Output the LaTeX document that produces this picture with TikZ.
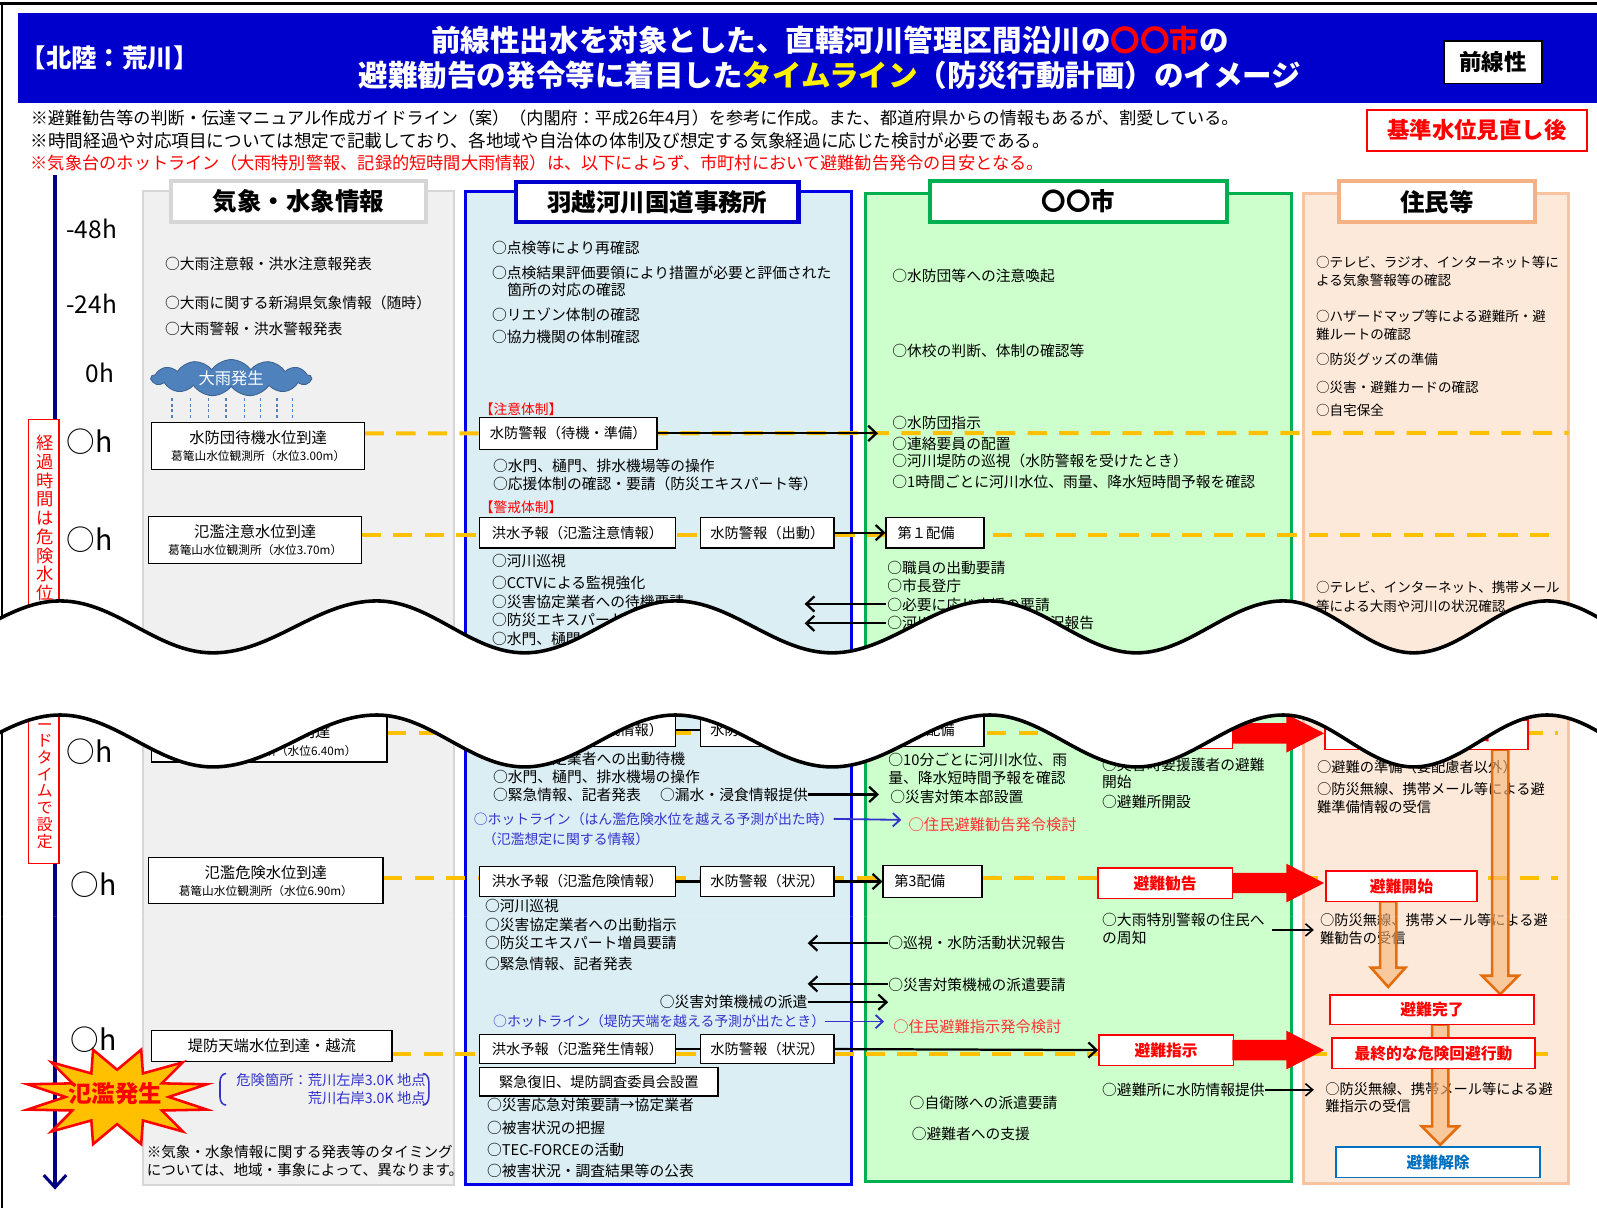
\documentclass[tikz,border=0pt]{standalone}
\usepackage{fontspec}
\setmainfont{Noto Sans CJK JP}
\usetikzlibrary{arrows.meta,shapes.geometric,shapes.symbols}
\newcommand\fs[1]{\fontsize{#1}{#1}\selectfont}
\newcommand\fsb[2]{\fontsize{#1}{#2}\selectfont}
\definecolor{hdrblue}{RGB}{0,0,204}
\definecolor{c1fill}{RGB}{240,240,240}
\definecolor{c1line}{RGB}{214,214,214}
\definecolor{c2fill}{RGB}{219,238,244}
\definecolor{c2line}{RGB}{0,0,230}
\definecolor{c3fill}{RGB}{204,255,204}
\definecolor{c3line}{RGB}{0,176,80}
\definecolor{c4fill}{RGB}{253,233,217}
\definecolor{c4line}{RGB}{248,196,160}
\definecolor{c4hdr}{RGB}{244,177,131}
\definecolor{dashor}{RGB}{255,192,0}
\definecolor{navy}{RGB}{0,0,128}
\definecolor{hot}{RGB}{51,51,204}
\definecolor{cloudblue}{RGB}{79,129,189}
\definecolor{oafill}{RGB}{247,180,120}
\definecolor{oaline}{RGB}{228,108,10}
\definecolor{clrblue}{RGB}{0,112,192}
\definecolor{burstfill}{RGB}{255,192,0}
\definecolor{softred}{RGB}{255,51,51}

\begin{document}
\begin{tikzpicture}[x=1pt,y=-1pt,
  txt/.style={anchor=west,inner sep=0pt,font=\fs{14.5}},
  ctxt/.style={inner sep=0pt,font=\fs{14.5}},
  rtxt/.style={txt,text=softred,font=\fs{15}},
  tagtxt/.style={txt,text=red,font=\fs{13.5}},
  htxt/.style={txt,text=hot,font=\fs{13.6}},
  ntxt/.style={txt,font=\fs{13.3}},
  mtxt/.style={txt,font=\fs{14}},
  tlab/.style={inner sep=0pt,font=\fs{24}},
  olab/.style={inner sep=0pt,font=\fs{28}},
  panelhdr/.style={fill=white,line width=4pt,inner sep=0pt,minimum height=40pt,font=\bfseries\fs{24}},
  box/.style={draw=black,line width=1.3pt,fill=white,inner sep=0pt,font=\fs{14}},
  rbox/.style={draw=red,line width=1.6pt,fill=white,inner sep=0pt,text=red,font=\bfseries\fs{15.5}},
  dl/.style={draw=dashor,line width=4pt,dash pattern=on 19pt off 12pt},
  arr/.style={draw=black,line width=2.2pt,-{Straight Barb[length=8pt,width=15pt]}},
  tarr/.style={draw=black,line width=1.6pt,-{Straight Barb[length=7pt,width=12pt]}},
  harr/.style={draw=hot,line width=1.8pt,-{Straight Barb[length=7pt,width=13pt]}},
  link/.style={draw=black,line width=2.2pt},
  oarrow/.style={fill=oafill,fill opacity=0.6,draw=oaline,line width=2.5pt},
]
\useasboundingbox (0,0) rectangle (1568,1186);
\fill[white] (0,0) rectangle (1568,1186);

% ---------- title band ----------
\fill[hdrblue] (18,13) rectangle (1568,101);
\node[anchor=west,inner sep=0pt,text=white,font=\bfseries\fs{25}] (region) at (20,57) {【北陸：荒川】};
\node[inner sep=0pt,text=white,font=\bfseries\fs{29}] (title1) at (815,40) {前線性出水を対象とした、直轄河川管理区間沿川の\textcolor{red}{〇〇市}の};
\node[inner sep=0pt,text=white,font=\bfseries\fs{29}] (title2) at (815,74) {避難勧告の発令等に着目した\textcolor{yellow}{タイムライン}（防災行動計画）のイメージ};
\node[draw=black,line width=1.5pt,fill=white,inner sep=0pt,minimum width=96pt,minimum height=42pt,font=\bfseries\fs{22}] (front) at (1466,61) {前線性};

% ---------- notes ----------
\node[txt,font=\fs{16.8}] (note1) at (30,116) {※避難勧告等の判断・伝達マニュアル作成ガイドライン（案）（内閣府：平成26年4月）を参考に作成。また、都道府県からの情報もあるが、割愛している。};
\node[txt,font=\fs{17.3}] (note2) at (30,138) {※時間経過や対応項目については想定で記載しており、各地域や自治体の体制及び想定する気象経過に応じた検討が必要である。};
\node[txt,font=\fs{16.9},text=red] (note3) at (30,160) {※気象台のホットライン（大雨特別警報、記録的短時間大雨情報）は、以下によらず、市町村において避難勧告発令の目安となる。};
\node[draw=red,line width=1.5pt,fill=white,inner sep=0pt,minimum width=216pt,minimum height=40pt,text=red,font=\bfseries\fs{22}] (revised) at (1450,128) {基準水位見直し後};

% ---------- column panels ----------
\filldraw[fill=c1fill,draw=c1line,line width=2pt] (140,188) rectangle (446,1163);
\filldraw[fill=c2fill,draw=c2line,line width=2.5pt] (457,188) rectangle (836,1163);
\filldraw[fill=c3fill,draw=c3line,line width=2.5pt] (850,190) rectangle (1268,1160);
\filldraw[fill=c4fill,draw=c4line,line width=2.5pt] (1280,190) rectangle (1540,1162);

\node[panelhdr,draw=c1line,minimum width=250pt] (h1) at (293,198) {気象・水象情報};
\node[panelhdr,draw=hdrblue,minimum width=277pt,minimum height=39pt] (h2) at (645.5,198.5) {羽越河川国道事務所};
\node[panelhdr,draw=c3line,minimum width=292pt] (h3) at (1059,198) {〇〇市};
\node[panelhdr,draw=c4hdr,minimum width=192pt] (h4) at (1411,198) {住民等};

% ---------- frame ----------
\draw[black,line width=3pt] (0,3) -- (1568,3);
\draw[black,line width=2.5pt] (2,3) -- (2,1186);

% ---------- water level guide lines ----------
\coordinate (d1s) at (358,425.5); \coordinate (d1e) at (1540,425);
\coordinate (d2s) at (355,525);   \coordinate (d2e) at (1530,525);
\coordinate (d3s) at (380,720);   \coordinate (d3e) at (1530,720);
\coordinate (d4s) at (376,862);   \coordinate (d4e) at (1530,862);
\coordinate (d5s) at (385,1035);  \coordinate (d5e) at (1530,1035);
\draw[dl] (d1s) -- (d1e);
\draw[dl] (d2s) -- (d2e);
\draw[dl] (d3s) -- (d3e);
\draw[dl] (d4s) -- (d4e);
\draw[dl] (d5s) -- (d5e);

% ---------- time axis ----------
\coordinate (ax0) at (54,172); \coordinate (ax1) at (54,1168);
\draw[navy,line width=3pt,-{Straight Barb[length=12pt,width=22pt]}] (ax0) -- (ax1);
\node[tlab] (tm48) at (90,225) {-48h};
\node[tlab] (tm24) at (90,298) {-24h};
\node[tlab] (tm0) at (98,366) {0h};
\node[olab] (oh1) at (88,434) {○h};
\node[olab] (oh2) at (88,530) {○h};
\node[olab] (oh3) at (88,738) {○h};
\node[olab] (oh4) at (92,869) {○h};

% lead-time label
\filldraw[fill=white,draw=red,line width=1.3pt] (28,412) rectangle (58,848);
\node[anchor=north,inner sep=0pt,align=center,text=red,font=\fsb{17}{18.4}] (vt1) at (44,427) {経\\過\\時\\間\\は\\危\\険\\水\\位\\到\\達};
\node[anchor=north,inner sep=0pt,align=center,text=red,font=\fsb{15.5}{16.4}] (vt2) at (44,710) {ー\\ド\\タ\\イ\\ム\\で\\設\\定};

% ---------- column 1 : weather / hydrology ----------
\node[txt] (w1) at (162,259) {○大雨注意報・洪水注意報発表};
\node[txt] (w2) at (162,297) {○大雨に関する新潟県気象情報（随時）};
\node[txt] (w3) at (162,323) {○大雨警報・洪水警報発表};
\node[cloud,cloud puffs=13,cloud puff arc=110,aspect=4.5,draw=cloudblue!75!black,line width=0.8pt,fill=cloudblue,minimum width=157pt,minimum height=36pt,inner sep=0pt,text=white,font=\fs{16}] (rainc) at (227,371) {大雨発生};
\foreach \rx in {169,187,205,222,240,256,272,287}
  \draw[cloudblue,line width=1.3pt,dash pattern=on 3pt off 2.5pt] (\rx,391) -- (\rx,410);

\node[box,minimum width=209pt,minimum height=46pt] (m1) at (253.5,438) {};
\node[ctxt,font=\fs{15}] (m1a) at (253.5,430) {水防団待機水位到達};
\node[ctxt,font=\fs{11.5}] (m1b) at (253.5,448) {葛篭山水位観測所（水位3.00m）};
\node[box,minimum width=209pt,minimum height=46pt] (m2) at (250.5,530) {};
\node[ctxt,font=\fs{15}] (m2a) at (250.5,522) {氾濫注意水位到達};
\node[ctxt,font=\fs{11.5}] (m2b) at (250.5,540) {葛篭山水位観測所（水位3.70m）};
\node[box,minimum width=231pt,minimum height=46pt] (m3) at (264.5,725) {};
\node[ctxt,font=\fs{15}] (m3a) at (264.5,718) {避難判断水位到達};
\node[ctxt,font=\fs{11.5}] (m3b) at (264.5,737) {葛篭山水位観測所（水位6.40m）};
\node[box,minimum width=230pt,minimum height=45pt] (m4) at (261,864.5) {};
\node[ctxt,font=\fs{15}] (m4a) at (261,857) {氾濫危険水位到達};
\node[ctxt,font=\fs{11.5}] (m4b) at (261,875) {葛篭山水位観測所（水位6.90m）};
\node[box,font=\fs{15},minimum width=236pt,minimum height=30pt] (m5) at (267,1027) {堤防天端水位到達・越流};

\node[anchor=east,inner sep=0pt,text=hot,font=\fs{14}] (spot1) at (418,1060) {危険箇所：荒川左岸3.0K 地点};
\node[anchor=east,inner sep=0pt,text=hot,font=\fs{14}] (spot2) at (418,1078) {荒川右岸3.0K 地点};
\draw[hot,line width=1.5pt] (222,1054) to[out=180,in=90] (216,1062) -- (216,1077) to[out=-90,in=180] (222,1085);
\draw[hot,line width=1.5pt] (415,1054) to[out=0,in=90] (421,1062) -- (421,1077) to[out=-90,in=0] (415,1085);

\node[txt,font=\fs{14.3}] (cav1) at (144,1131) {※気象・水象情報に関する発表等のタイミング};
\node[txt,font=\fs{14.3}] (cav2) at (144,1149) {については、地域・事象によって、異なります。};

% ---------- column 2 : river office ----------
\node[txt] (o1) at (483,243) {○点検等により再確認};
\node[txt] (o2) at (483,268) {○点検結果評価要領により措置が必要と評価された};
\node[txt] (o3) at (498,285) {箇所の対応の確認};
\node[txt] (o4) at (483,309) {○リエゾン体制の確認};
\node[txt] (o5) at (483,331) {○協力機関の体制確認};
\node[tagtxt] (tag1) at (471,402) {【注意体制】};
\node[box,minimum width=174pt,minimum height=31pt] (k1) at (558,425.5) {水防警報（待機・準備）};
\node[txt] (o6) at (484,457) {○水門、樋門、排水機場等の操作};
\node[txt] (o7) at (484,475) {○応援体制の確認・要請（防災エキスパート等）};
\node[tagtxt] (tag2) at (471,498) {【警戒体制】};
\node[box,minimum width=192pt,minimum height=30pt] (k2) at (567,523) {洪水予報（氾濫注意情報）};
\node[box,minimum width=131pt,minimum height=30pt] (k3) at (753.5,523) {水防警報（出動）};
\node[txt] (o8) at (483,551) {○河川巡視};
\node[txt] (o9) at (483,572) {○CCTVによる監視強化};
\node[txt] (o10) at (483,591) {○災害協定業者への待機要請};
\node[txt] (o11) at (483,609) {○防災エキスパート派遣要請};
\node[txt] (o12) at (483,627) {○水門、樋門、排水機場の操作};

\node[box,minimum width=192pt,minimum height=32pt] (k4) at (567,717) {洪水予報（氾濫警戒情報）};
\node[box,minimum width=131pt,minimum height=32pt] (k5) at (753.5,717) {水防警報（指示）};
\draw[link] (k4.east) -- (k5.west);
\node[txt] (o13) at (484,745) {○災害協定業者への出動待機};
\node[txt] (o14) at (484,763) {○水門、樋門、排水機場の操作};
\node[txt] (o15) at (484,780) {○緊急情報、記者発表};
\node[txt] (o16) at (648,780) {○漏水・浸食情報提供};
\node[htxt] (hot1) at (465,804) {○ホットライン（はん濫危険水位を越える予測が出た時）};
\node[htxt] (hot2) at (474,824) {（氾濫想定に関する情報）};
\node[box,minimum width=192pt,minimum height=29pt] (k6) at (567,865.5) {洪水予報（氾濫危険情報）};
\node[box,minimum width=131pt,minimum height=29pt] (k7) at (753.5,865.5) {水防警報（状況）};
\draw[link] (k6.east) -- (k7.west);
\node[txt] (o17) at (476,889) {○河川巡視};
\node[txt] (o18) at (476,908) {○災害協定業者への出動指示};
\node[txt] (o19) at (476,926) {○防災エキスパート増員要請};
\node[txt] (o20) at (476,946) {○緊急情報、記者発表};
\node[anchor=east,inner sep=0pt,font=\fs{14.5}] (o21) at (793,984) {○災害対策機械の派遣};
\node[htxt] (hot3) at (484,1003) {○ホットライン（堤防天端を越える予測が出たとき）};
\node[box,minimum width=192pt,minimum height=28pt] (k8) at (567,1030) {洪水予報（氾濫発生情報）};
\node[box,minimum width=131pt,minimum height=28pt] (k9) at (753.5,1030) {水防警報（状況）};
\draw[link] (k8.east) -- (k9.west);
\node[box,minimum width=234pt,minimum height=28pt] (k10) at (588,1062) {緊急復旧、堤防調査委員会設置};
\node[txt] (o22) at (478,1085) {○災害応急対策要請→協定業者};
\node[txt] (o23) at (478,1107) {○被害状況の把握};
\node[txt] (o24) at (478,1129) {○TEC-FORCEの活動};
\node[txt] (o25) at (478,1150) {○被害状況・調査結果等の公表};

% ---------- column 3 : city ----------
\node[txt] (c1) at (876,271) {○水防団等への注意喚起};
\node[txt] (c2) at (876,345) {○休校の判断、体制の確認等};
\node[txt] (c3) at (876,415) {○水防団指示};
\node[txt] (c4) at (876,436) {○連絡要員の配置};
\node[txt] (c5) at (876,453) {○河川堤防の巡視（水防警報を受けたとき）};
\node[txt] (c6) at (876,473) {○1時間ごとに河川水位、雨量、降水短時間予報を確認};
\node[box,minimum width=96pt,minimum height=30pt] (s1) at (918,523) {};
\node[mtxt] (s1t) at (881,523) {第１配備};
\node[txt] (c7) at (871,558) {○職員の出動要請};
\node[txt] (c8) at (871,575) {○市長登庁};
\node[txt] (c9) at (871,594) {○必要に応じ応援の要請};
\node[txt] (c10) at (871,612) {○河川巡視・水防活動状況報告};

\node[box,minimum width=96pt,minimum height=32pt] (s2) at (918,717) {};
\node[mtxt] (s2t) at (881,717) {第２配備};
\node[txt] (c11) at (872,746) {○10分ごとに河川水位、雨};
\node[txt] (c12) at (872,764) {量、降水短時間予報を確認};
\node[txt] (c13) at (874,782) {○災害対策本部設置};
\node[rtxt] (c14) at (892,810) {○住民避難勧告発令検討};
\node[txt] (c15) at (1082,751) {○災害時要援護者の避難};
\node[txt] (c16) at (1082,768) {開始};
\node[txt] (c17) at (1082,787) {○避難所開設};
\node[box,minimum width=97pt,minimum height=31pt] (s3) at (915.5,865.5) {};
\node[mtxt] (s3t) at (878,865.5) {第3配備};
\node[txt] (c18) at (1082,903) {○大雨特別警報の住民へ};
\node[txt] (c19) at (1082,921) {の周知};
\node[txt] (c20) at (872,926) {○巡視・水防活動状況報告};
\node[txt] (c21) at (872,967) {○災害対策機械の派遣要請};
\node[rtxt] (c22) at (877,1008) {○住民避難指示発令検討};
\node[txt] (c23) at (1082,1070) {○避難所に水防情報提供};
\node[txt] (c24) at (893,1083) {○自衛隊への派遣要請};
\node[txt] (c25) at (895,1113) {○避難者への支援};

% ---------- column 4 : residents ----------
\node[ntxt] (p1) at (1292,258) {○テレビ、ラジオ、インターネット等に};
\node[ntxt] (p2) at (1292,275) {よる気象警報等の確認};
\node[ntxt] (p3) at (1292,311) {○ハザードマップ等による避難所・避};
\node[ntxt] (p4) at (1292,328) {難ルートの確認};
\node[ntxt] (p5) at (1292,353) {○防災グッズの準備};
\node[ntxt] (p6) at (1292,380) {○災害・避難カードの確認};
\node[ntxt] (p7) at (1292,403) {○自宅保全};
\node[ntxt] (p8) at (1292,577) {○テレビ、インターネット、携帯メール};
\node[ntxt] (p9) at (1292,595) {等による大雨や河川の状況確認};
\node[mtxt] (p10) at (1293,753) {○避難の準備（要配慮者以外）};
\node[mtxt] (p11) at (1293,775) {○防災無線、携帯メール等による避};
\node[mtxt] (p12) at (1293,792) {難準備情報の受信};
\node[mtxt] (p13) at (1296,903) {○防災無線、携帯メール等による避};
\node[mtxt] (p14) at (1296,921) {難勧告の受信};
\node[mtxt] (p15) at (1301,1069) {○防災無線、携帯メール等による避};
\node[mtxt] (p16) at (1301,1086) {難指示の受信};

% ---------- connectors ----------
\coordinate (a1e) at (862,425.5);
\draw[arr] (k1.east) -- (a1e);
\draw[arr] (k3.east) -- (s1.west);
\coordinate (a3s) at (870,593); \coordinate (a3e) at (790,593);
\coordinate (a4s) at (870,612); \coordinate (a4e) at (790,612);
\draw[arr] (a3s) -- (a3e);
\draw[arr] (a4s) -- (a4e);
\draw[arr] (k5.east) -- (s2.west);
\coordinate (a6e) at (863,780);
\draw[arr] (o16.east) -- (a6e);
\coordinate (h1e) at (885,805);
\draw[harr] (hot1.east) -- (h1e);
\draw[arr] (k7.east) -- (s3.west);
\coordinate (a9e) at (793,926);
\draw[arr] (c20.west) -- (a9e);
\coordinate (a10s) at (872,966); \coordinate (a10e) at (793,966);
\draw[arr] (a10s) -- (a10e);
\coordinate (a11e) at (872,984);
\draw[arr] (o21.east) -- (a11e);
\coordinate (h3e) at (868,1003);
\draw[harr] (hot3.east) -- (h3e);
\node[rbox,minimum width=132pt,minimum height=30pt] (r3) at (1145,1031) {避難指示};
\draw[arr] (k9.east) -- (r3.west);
\coordinate (a14s) at (1249,913); \coordinate (a14e) at (1290,913);
\draw[tarr] (a14s) -- (a14e);
\coordinate (a15e) at (1290,1070);
\draw[tarr] (c23.east) -- (a15e);

% red transfer arrows toward residents
\foreach \yy in {720,867,1031}
  \fill[red] (1210,\yy-10) -- (1263,\yy-10) -- (1263,\yy-19) -- (1300,\yy) -- (1263,\yy+19) -- (1263,\yy+10) -- (1210,\yy+10) -- cycle;

% hollow orange flow arrows
\filldraw[oarrow] (1465,736) -- (1465,958) -- (1455,958) -- (1473,976) -- (1491,958) -- (1481,958) -- (1481,736) -- cycle;
\filldraw[oarrow] (1355,885) -- (1355,950) -- (1346,950) -- (1363,969) -- (1380,950) -- (1371,950) -- (1371,885) -- cycle;
\filldraw[oarrow] (1406,1006) -- (1406,1106) -- (1396,1106) -- (1414,1124) -- (1432,1106) -- (1422,1106) -- (1422,1006) -- cycle;

\node[rbox,minimum width=132pt,minimum height=30pt] (r1) at (1144,720) {避難準備情報};
\node[rbox,minimum width=132pt,minimum height=30pt] (r2) at (1144,867) {避難勧告};
\node[rbox,minimum width=199pt,minimum height=29pt] (r4) at (1400.5,721.5) {要配慮者避難開始};
\node[rbox,minimum width=148pt,minimum height=30pt] (r5) at (1376,870) {避難開始};
\node[rbox,minimum width=200pt,minimum height=29pt] (r6) at (1406,991.5) {避難完了};
\node[rbox,minimum width=199pt,minimum height=30pt] (r7) at (1407.5,1034) {最終的な危険回避行動};
\node[rbox,draw=clrblue,text=clrblue,minimum width=200pt,minimum height=30pt] (r8) at (1412,1141) {避難解除};

% ---------- flooding burst ----------
\begin{scope}[shift={(115,1077)},xscale=1.9]
  \node[star,star points=12,star point ratio=1.8,minimum size=96pt,inner sep=0pt,shape border rotate=15,draw=red,line width=2.5pt,fill=burstfill,transform shape] (burst) at (0,0) {};
\end{scope}
\node[inner sep=0pt,text=red,font=\bfseries\fs{23}] (burstt) at (113,1074) {氾濫発生};
\node[olab] (oh5) at (92,1021) {○h};

% ---------- omitted time span (wavy cut) ----------
\fill[white,even odd rule]
  (-91,641) .. controls (-36,641) and (4,590) .. (59,590)
  .. controls (114,590) and (154,641) .. (209,641)
  .. controls (268,641) and (311,590) .. (370,590)
  .. controls (423,590) and (462,641) .. (515,641)
  .. controls (569,641) and (609,590) .. (663,590)
  .. controls (719,590) and (761,641) .. (817,641)
  .. controls (873,641) and (916,590) .. (972,590)
  .. controls (1024,590) and (1064,641) .. (1116,641)
  .. controls (1168,641) and (1208,590) .. (1260,590)
  .. controls (1307,590) and (1341,641) .. (1388,641)
  .. controls (1436,641) and (1471,590) .. (1519,590)
  .. controls (1567,590) and (1602,641) .. (1650,641)
  -- (1650,900) -- (-91,900) -- cycle
  (-91,753) .. controls (-36,753) and (4,702) .. (59,702)
  .. controls (114,702) and (154,753) .. (209,753)
  .. controls (268,753) and (311,702) .. (370,702)
  .. controls (423,702) and (462,753) .. (515,753)
  .. controls (569,753) and (609,702) .. (663,702)
  .. controls (719,702) and (761,753) .. (817,753)
  .. controls (873,753) and (916,702) .. (972,702)
  .. controls (1024,702) and (1064,753) .. (1116,753)
  .. controls (1168,753) and (1208,702) .. (1260,702)
  .. controls (1307,702) and (1341,753) .. (1388,753)
  .. controls (1436,753) and (1471,702) .. (1519,702)
  .. controls (1567,702) and (1602,753) .. (1650,753)
  -- (1650,900) -- (-91,900) -- cycle;
\draw[black,line width=3.5pt]
  (-91,641) .. controls (-36,641) and (4,590) .. (59,590)
  .. controls (114,590) and (154,641) .. (209,641)
  .. controls (268,641) and (311,590) .. (370,590)
  .. controls (423,590) and (462,641) .. (515,641)
  .. controls (569,641) and (609,590) .. (663,590)
  .. controls (719,590) and (761,641) .. (817,641)
  .. controls (873,641) and (916,590) .. (972,590)
  .. controls (1024,590) and (1064,641) .. (1116,641)
  .. controls (1168,641) and (1208,590) .. (1260,590)
  .. controls (1307,590) and (1341,641) .. (1388,641)
  .. controls (1436,641) and (1471,590) .. (1519,590)
  .. controls (1567,590) and (1602,641) .. (1650,641);
\draw[black,line width=3.5pt]
  (-91,753) .. controls (-36,753) and (4,702) .. (59,702)
  .. controls (114,702) and (154,753) .. (209,753)
  .. controls (268,753) and (311,702) .. (370,702)
  .. controls (423,702) and (462,753) .. (515,753)
  .. controls (569,753) and (609,702) .. (663,702)
  .. controls (719,702) and (761,753) .. (817,753)
  .. controls (873,753) and (916,702) .. (972,702)
  .. controls (1024,702) and (1064,753) .. (1116,753)
  .. controls (1168,753) and (1208,702) .. (1260,702)
  .. controls (1307,702) and (1341,753) .. (1388,753)
  .. controls (1436,753) and (1471,702) .. (1519,702)
  .. controls (1567,702) and (1602,753) .. (1650,753);
\end{tikzpicture}
\end{document}
